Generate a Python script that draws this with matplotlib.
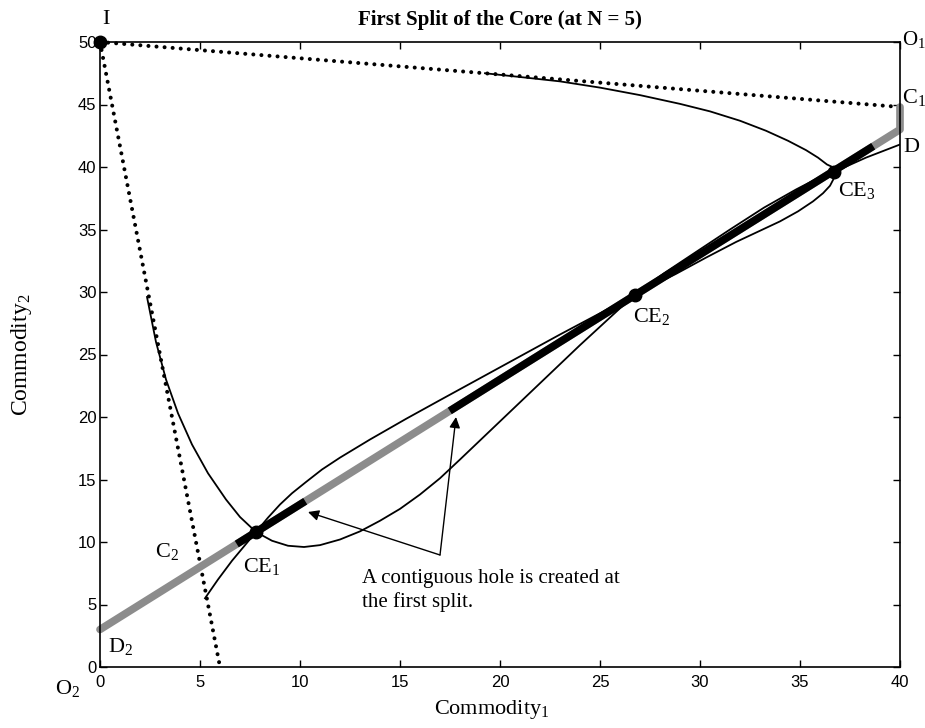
import numpy as np
import matplotlib
matplotlib.use("Agg")
import matplotlib.pyplot as plt

plt.rcParams['font.family'] = ['Liberation Serif', 'DejaVu Serif']
plt.rcParams['mathtext.fontset'] = 'custom'
plt.rcParams['mathtext.rm'] = 'Liberation Serif'
plt.rcParams['mathtext.it'] = 'Liberation Serif:italic'

# endowment / boundary points
I_pt = (0.0, 50.0)
C1_pt = (40.0, 44.8)
bottom_pt = (6.0, 0.0)

# core line (D2 -> D1 -> C1)
core_x = [0.0, 40.0, 40.0]
core_y = [3.0, 43.0, 44.8]
# parts of the core that survive the split
black1_x = [7.0, 10.1]
black1_y = [10.0, 13.1]
black2_x = [17.65, 38.5]
black2_y = [20.65, 41.5]

# competitive equilibria
ce_x = [7.8, 26.75, 36.7]
ce_y = [10.8, 29.8, 39.6]

# offer curve A (from near C2, above the core line, down to D1)
a_x = [5.25, 5.9, 6.6, 7.2, 7.8, 8.4, 9.0, 9.6, 10.3, 11.1, 12.0, 13.5, 15.3,
       17.0, 19.0, 21.0, 23.0, 25.0, 26.75, 28.2, 29.8, 31.5, 33.2, 34.8, 36.0,
       36.7, 38.3, 40.0]
a_y = [5.5, 7.0, 8.5, 9.65, 10.8, 11.95, 13.0, 13.9, 14.8, 15.8, 16.75, 18.2, 19.85,
       21.35, 23.1, 24.85, 26.6, 28.3, 29.8, 31.5, 33.2, 35.0, 36.75, 38.2, 39.2,
       39.6, 40.75, 41.8]

# offer curve B (from the top dotted line, round CE3, below the core line, up the left)
b_x = [19.25, 21.0, 23.0, 25.0, 27.0, 29.0, 30.5, 32.0, 33.3, 34.4, 35.3, 35.9,
       36.35, 36.62, 36.72, 36.68, 36.5, 36.15, 35.65, 34.9, 34.0, 33.0, 31.8, 30.3,
       28.8, 26.75, 24.0, 22.0, 20.0, 18.0, 17.0, 16.0, 15.0, 14.0, 13.0, 12.0,
       11.0, 10.2, 9.4, 8.6, 7.8, 7.0, 6.3, 5.4, 4.6, 3.9, 3.3, 2.8, 2.35]
b_y = [47.5, 47.2, 46.85, 46.35, 45.75, 45.05, 44.45, 43.7, 42.9, 42.1, 41.35, 40.75,
       40.2, 40.0, 39.55, 39.05, 38.5, 37.9, 37.25, 36.45, 35.65, 34.9, 34.0, 32.75,
       31.45, 29.8, 25.75, 22.7, 19.65, 16.6, 15.1, 13.8, 12.65, 11.7, 10.85, 10.2,
       9.75, 9.6, 9.7, 10.1, 10.8, 12.0, 13.4, 15.5, 17.8, 20.3, 23.0, 26.0, 29.6]

fig = plt.figure(figsize=(9.25, 7.28), dpi=100)
ax = fig.add_axes([100/925, 61/728, 800/925, 625/728])

dots = dict(color='k', lw=2.9, linestyle=(0, (0.01, 2.0)), dash_capstyle='round', clip_on=False)
ax.plot([I_pt[0], C1_pt[0]], [I_pt[1], C1_pt[1]], **dots)
ax.plot([I_pt[0], bottom_pt[0]], [I_pt[1], bottom_pt[1]], **dots)

ax.plot(core_x, core_y, color='#8c8c8c', lw=5.5, solid_capstyle='round',
        solid_joinstyle='round', clip_on=False, zorder=2)
ax.plot(black1_x, black1_y, color='k', lw=5.5, zorder=3)
ax.plot(black2_x, black2_y, color='k', lw=5.5, zorder=3)

ax.plot(a_x, a_y, color='k', lw=1.3, zorder=4, solid_joinstyle='round')
ax.plot(b_x, b_y, color='k', lw=1.3, zorder=4, solid_joinstyle='round')

ax.plot(ce_x, ce_y, 'o', color='k', ms=9, zorder=5)
ax.plot([I_pt[0]], [I_pt[1]], 'o', color='k', ms=9, zorder=5, clip_on=False)

# labels
fs = 16
ax.text(0.3, 51.8, 'I', fontsize=fs, ha='center', va='center')
ax.text(40.08, 49.75, r'O$_1$', fontsize=15, ha='left', va='baseline', clip_on=False)
ax.text(40.1, 45.1, r'C$_1$', fontsize=fs, ha='left', va='baseline', clip_on=False)
ax.text(40.15, 41.2, 'D', fontsize=fs, ha='left', va='baseline', clip_on=False)
ax.text(36.9, 37.7, r'CE$_3$', fontsize=fs, ha='left', va='baseline')
ax.text(26.65, 27.6, r'CE$_2$', fontsize=fs, ha='left', va='baseline')
ax.text(7.15, 7.6, r'CE$_1$', fontsize=fs, ha='left', va='baseline')
ax.text(2.75, 8.8, r'C$_2$', fontsize=fs, ha='left', va='baseline')
ax.text(0.4, 1.2, r'D$_2$', fontsize=fs, ha='left', va='baseline')
ax.text(-2.25, -2.15, r'O$_2$', fontsize=fs, ha='left', va='baseline', clip_on=False)

ax.text(13.1, 6.7, 'A contiguous hole is created at', fontsize=15, ha='left', va='baseline')
ax.text(13.1, 4.8, 'the first split.', fontsize=15, ha='left', va='baseline')
arrow = dict(arrowstyle='-|>', color='k', lw=1.0, mutation_scale=16, shrinkA=0, shrinkB=0)
ax.annotate('', xy=(10.4, 12.4), xytext=(17.0, 8.96), arrowprops=arrow)
ax.annotate('', xy=(17.8, 20.0), xytext=(17.0, 8.96), arrowprops=arrow)

ax.set_xlim(0, 40)
ax.set_ylim(0, 50)
ax.set_xticks(np.arange(0, 41, 5))
ax.set_yticks(np.arange(0, 51, 5))
ax.tick_params(direction='in', top=True, right=True, length=5, width=1, labelsize=12)
ax.tick_params(axis='x', pad=6)
ax.tick_params(axis='y', pad=2.5)
for lab in ax.get_xticklabels() + ax.get_yticklabels():
    lab.set_family(['Liberation Sans', 'DejaVu Sans'])
for s in ax.spines.values():
    s.set_linewidth(1.2)

ax.set_title('First Split of the Core (at N = 5)', fontsize=15, fontweight='bold', pad=12)
ax.set_xlabel(r'Commodity$_1$', fontsize=16)
ax.set_ylabel(r'Commodity$_2$', fontsize=17)
ax.xaxis.set_label_coords(0.49, -0.049)
ax.yaxis.set_label_coords(-0.083, 0.5)

fig.savefig('out.png', dpi=100)
